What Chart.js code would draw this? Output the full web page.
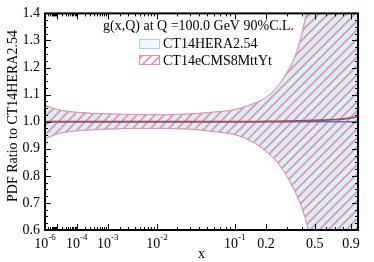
<!DOCTYPE html>
<html>
<head>
<meta charset="utf-8">
<script src="https://cdn.jsdelivr.net/npm/chart.js@4.4.0/dist/chart.umd.min.js"></script>
<style>
  body { margin: 0; background: #fff; }
</style>
</head>
<body>
<canvas id="ratio" width="374" height="262"></canvas>
<script>
// datos
var xValues     = [1e-6, 1e-5, 1e-4, 1e-3, 3e-3, 1e-2, 0.03, 0.06, 0.1, 0.15, 0.2, 0.25, 0.3, 0.35, 0.4, 0.45, 0.5, 0.6, 0.7, 0.8, 0.9, 1.0];
var heraUpper   = [1.061, 1.044, 1.034, 1.028, 1.026, 1.025, 1.028, 1.035, 1.044, 1.064, 1.088, 1.126, 1.175, 1.235, 1.32, 1.44, 1.6, 2.0, 2.5, 3.0, 3.5, 4.0];
var heraLower   = [0.939, 0.956, 0.967, 0.973, 0.975, 0.976, 0.973, 0.964, 0.953, 0.927, 0.892, 0.852, 0.802, 0.745, 0.682, 0.597, 0.48, 0.2, -0.2, -0.6, -1.0, -1.4];
var cmsUpper    = [1.062, 1.045, 1.035, 1.029, 1.027, 1.026, 1.029, 1.036, 1.045, 1.066, 1.09, 1.13, 1.18, 1.24, 1.33, 1.45, 1.6, 2.0, 2.5, 3.0, 3.5, 4.0];
var cmsLower    = [0.937, 0.955, 0.966, 0.972, 0.975, 0.975, 0.972, 0.963, 0.952, 0.925, 0.89, 0.85, 0.80, 0.743, 0.68, 0.595, 0.48, 0.2, -0.2, -0.6, -1.0, -1.4];
var heraCentral = [1.0, 1.0, 1.0, 1.0, 1.0, 1.0, 1.0, 1.0, 1.0, 1.0, 1.0, 1.0, 1.0, 1.0, 1.0, 1.0, 1.0, 1.0, 1.0, 1.0, 1.0, 1.0];
var cmsCentral  = [1.0, 1.0, 1.0, 1.0, 1.0, 1.0, 1.0, 1.0, 1.0, 1.0, 1.001, 1.001, 1.002, 1.003, 1.003, 1.004, 1.005, 1.006, 1.008, 1.010, 1.014, 1.018];
var seriesNames = ['CT14HERA2.54', 'CT14eCMS8MttYt'];
var titleText   = 'g(x,Q) at Q =100.0 GeV 90%C.L.';
var yTitle      = 'PDF Ratio to CT14HERA2.54';
var majorTicksX = [1e-6, 1e-5, 1e-4, 1e-3, 1e-2, 0.1, 0.2, 0.5, 0.9];
var labelTicksX = [['10', '-6', 1e-6], ['10', '-4', 1e-4], ['10', '-3', 1e-3], ['10', '-2', 1e-2], ['10', '-1', 0.1], ['0.2', '', 0.2], ['0.5', '', 0.5], ['0.9', '', 0.9]];

// el eje x va como x^0.2
var POW = 0.2;
function u(x) { return Math.pow(x, POW); }
function pts(ys) { return xValues.map(function (x, i) { return { x: u(x), y: ys[i] }; }); }

var serif = '"Liberation Serif", "DejaVu Serif", serif';
var blueFill = '#d3f0fb';
var blueLine = '#a9d3ef';
var pink = '#ef8ea3';

// patron rayado rosa
function hatch() {
    var s = 9;
    var c = document.createElement('canvas');
    c.width = s; c.height = s;
    var g = c.getContext('2d');
    g.strokeStyle = pink;
    g.lineWidth = 1.6;
    g.beginPath();
    g.moveTo(-1, s + 1); g.lineTo(s + 1, -1);
    g.moveTo(-1, 1); g.lineTo(1, -1);
    g.moveTo(s - 1, s + 1); g.lineTo(s + 1, s - 1);
    g.stroke();
    return g.createPattern(c, 'repeat');
}
var hatchPattern = hatch();

// marco, marcas hacia dentro, etiquetas y leyenda
var decor = {
    id: 'decor',
    afterDraw: function (chart) {
        var ctx = chart.ctx, a = chart.chartArea;
        var sx = chart.scales.x, sy = chart.scales.y;
        ctx.save();
        ctx.strokeStyle = '#000';
        ctx.lineWidth = 1;
        function tx(x, len) {
            var p = Math.round(sx.getPixelForValue(u(x))) + 0.5;
            ctx.beginPath();
            ctx.moveTo(p, a.bottom); ctx.lineTo(p, a.bottom - len);
            ctx.moveTo(p, a.top); ctx.lineTo(p, a.top + len);
            ctx.stroke();
        }
        for (var e = -6; e < 0; e++) {
            for (var k = 2; k <= 9; k++) {
                var v = k * Math.pow(10, e);
                if (v < 1 && majorTicksX.indexOf(v) < 0) tx(v, 3);
            }
        }
        majorTicksX.forEach(function (v) { tx(v, 6); });
        for (var y = 0.6; y <= 1.4001; y += 0.025) {
            var p = Math.round(sy.getPixelForValue(y)) + 0.5;
            var major = Math.abs(y * 10 - Math.round(y * 10)) < 1e-6;
            var len = major ? 6 : 3;
            ctx.beginPath();
            ctx.moveTo(a.left, p); ctx.lineTo(a.left + len, p);
            ctx.moveTo(a.right, p); ctx.lineTo(a.right - len, p);
            ctx.stroke();
        }
        ctx.lineWidth = 2;
        ctx.strokeRect(a.left, a.top, a.right - a.left, a.bottom - a.top);

        // etiquetas del eje x
        ctx.fillStyle = '#000';
        ctx.textBaseline = 'alphabetic';
        ctx.textAlign = 'left';
        labelTicksX.forEach(function (t) {
            ctx.font = '14px ' + serif;
            var w1 = ctx.measureText(t[0]).width;
            ctx.font = '9px ' + serif;
            var w2 = t[1] ? ctx.measureText(t[1]).width : 0;
            var c = sx.getPixelForValue(u(t[2]));
            var x0 = c - (w1 + w2) / 2;
            ctx.font = '14px ' + serif;
            ctx.fillText(t[0], x0, 248);
            if (t[1]) {
                ctx.font = '9px ' + serif;
                ctx.fillText(t[1], x0 + w1, 240);
            }
        });
        ctx.font = '14px ' + serif;
        ctx.textAlign = 'center';
        ctx.fillText('x', (a.left + a.right) / 2, 258);

        // titulo del eje y
        ctx.save();
        ctx.translate(17, 116);
        ctx.rotate(-Math.PI / 2);
        ctx.textAlign = 'center';
        ctx.fillText(yTitle, 0, 0);
        ctx.restore();

        // titulo y leyenda
        ctx.textAlign = 'left';
        ctx.fillText(titleText, 103, 30);
        ctx.fillStyle = '#f1f9fd';
        ctx.fillRect(139, 39, 20, 9);
        ctx.strokeStyle = blueLine;
        ctx.lineWidth = 1;
        ctx.strokeRect(139.5, 39.5, 20, 9);
        ctx.fillStyle = hatchPattern;
        ctx.fillRect(139, 55, 20, 9);
        ctx.strokeStyle = pink;
        ctx.strokeRect(139.5, 55.5, 20, 9);
        ctx.fillStyle = '#000';
        ctx.fillText(seriesNames[0], 163, 48);
        ctx.fillText(seriesNames[1], 163, 65);
        ctx.restore();
    }
};

var ctx = document.getElementById('ratio').getContext('2d');
var chart = new Chart(ctx, {
    type: 'line',
    data: {
        datasets: [
            { label: seriesNames[0] + ' up', data: pts(heraUpper), borderColor: blueLine, borderWidth: 1, backgroundColor: blueFill, fill: '+1', order: 5 },
            { label: seriesNames[0] + ' low', data: pts(heraLower), borderColor: blueLine, borderWidth: 1, fill: false, order: 4 },
            { label: seriesNames[1] + ' up', data: pts(cmsUpper), borderColor: pink, borderWidth: 1, backgroundColor: hatchPattern, fill: '+1', order: 3 },
            { label: seriesNames[1] + ' low', data: pts(cmsLower), borderColor: pink, borderWidth: 1, fill: false, order: 2 },
            { label: seriesNames[0], data: pts(heraCentral), borderColor: '#3b78d8', borderWidth: 1.5, fill: false, order: 1 },
            { label: seriesNames[1], data: pts(cmsCentral), borderColor: '#b5484a', borderWidth: 1.8, fill: false, order: 0 }
        ]
    },
    options: {
        responsive: false,
        animation: false,
        devicePixelRatio: 1,
        layout: { padding: { top: 11, right: 16, left: 0, bottom: 0 } },
        elements: {
            point: { radius: 0 },
            line: { cubicInterpolationMode: 'monotone' }
        },
        plugins: {
            legend: { display: false },
            tooltip: { enabled: false }
        },
        scales: {
            x: {
                type: 'linear',
                min: u(1e-6),
                max: 1,
                grid: { display: false },
                border: { display: false },
                ticks: { display: false },
                afterFit: function (s) { s.height = 32; }
            },
            y: {
                min: 0.6,
                max: 1.4,
                grid: { display: false, drawTicks: false },
                border: { display: false },
                ticks: {
                    stepSize: 0.1,
                    padding: 5,
                    color: '#000',
                    font: { family: serif, size: 14 },
                    callback: function (v) { return v.toFixed(1); }
                },
                afterFit: function (s) { s.width = 45; }
            }
        }
    },
    plugins: [decor]
});
</script>
</body>
</html>
